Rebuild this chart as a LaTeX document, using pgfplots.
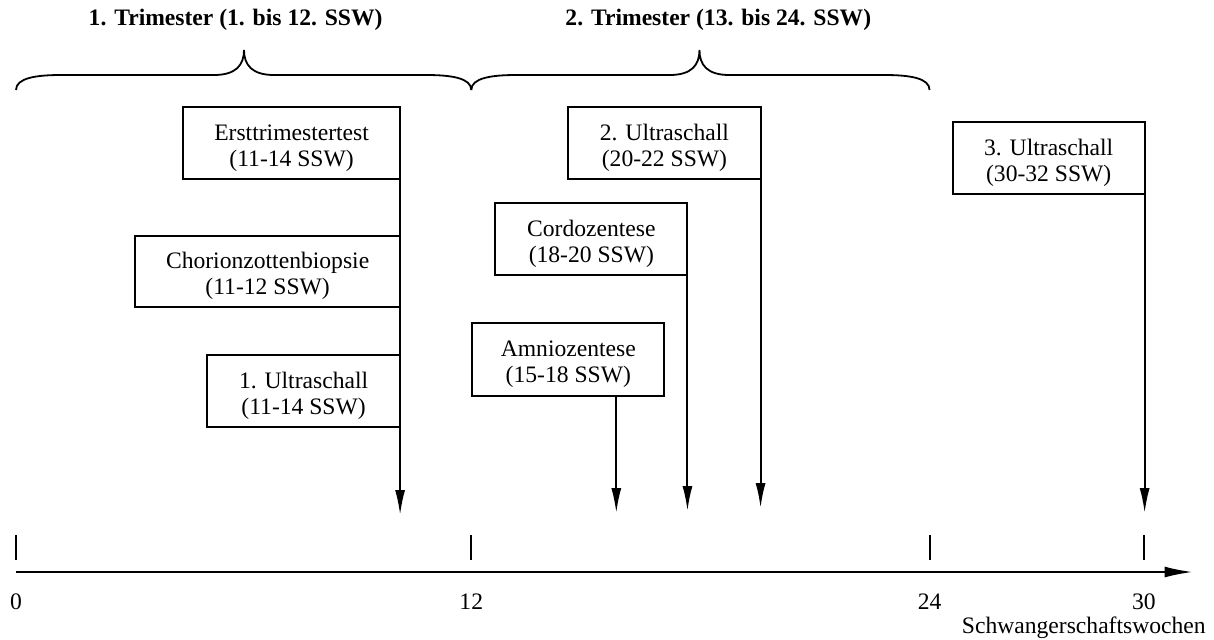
\documentclass[border=0pt]{standalone}
\usepackage{fontspec}
\setmainfont{Liberation Serif}
\usepackage{pgfplots}
\pgfplotsset{compat=1.18}
\usetikzlibrary{arrows.meta}

\begin{document}
\begin{tikzpicture}[font=\fontsize{11.8}{13}\selectfont]
\useasboundingbox (0,0) rectangle (607pt,319.5pt);
\begin{axis}[at={(0,0)}, anchor=south west, scale only axis,
  width=607pt, height=319.5pt,
  xmin=-0.4206, xmax=31.4722, ymin=0, ymax=639, y dir=reverse,
  hide axis, clip=false]

% time axis
\addplot[line width=1pt, -{Latex[length=14pt,width=5.5pt]}] coordinates {(0,572) (30.91,572)};
% tick marks
\addplot[line width=1pt] coordinates {(0,535) (0,560)};
\addplot[line width=1pt] coordinates {(11.96,535) (11.96,560)};
\addplot[line width=1pt] coordinates {(24.0,535) (24.0,560)};
\addplot[line width=1pt] coordinates {(29.63,535) (29.63,560)};
\node at (0,602) {0};
\node at (11.96,602) {12};
\node at (24.0,602) {24};
\node at (29.63,602) {30};
\node[anchor=east] at (31.44,628) {Schwangerschaftswochen};

% braces
\draw[line width=0.9pt] (0,90) .. controls (0,78) and (0.526,75) .. (1.183,75) -- (5.20,75)
  .. controls (5.78,75) and (5.99,65) .. (5.99,50)
  .. controls (5.99,65) and (6.20,75) .. (6.78,75) -- (10.78,75)
  .. controls (11.43,75) and (11.96,78) .. (11.96,90);
\draw[line width=0.9pt] (11.96,90) .. controls (11.96,78) and (12.49,75) .. (13.14,75) -- (17.17,75)
  .. controls (17.75,75) and (17.955,65) .. (17.955,50)
  .. controls (17.955,65) and (18.16,75) .. (18.74,75) -- (22.82,75)
  .. controls (23.47,75) and (24.0,78) .. (24.0,90);
\node[font=\fontsize{11.8}{13}\selectfont\bfseries] at (5.77,20) {1. Trimester (1. bis 12. SSW)};
\node[font=\fontsize{11.8}{13}\selectfont\bfseries] at (18.45,20) {2. Trimester (13. bis 24. SSW)};

% arrows
\addplot[line width=1pt, -{Latex[length=12.5pt,width=5pt]}] coordinates {(10.09,107) (10.09,515)};
\addplot[line width=1pt, -{Latex[length=12.5pt,width=5pt]}] coordinates {(15.77,396) (15.77,513)};
\addplot[line width=1pt, -{Latex[length=12.5pt,width=5pt]}] coordinates {(17.64,275) (17.64,511)};
\addplot[line width=1pt, -{Latex[length=12.5pt,width=5pt]}] coordinates {(19.56,179) (19.56,508)};
\addplot[line width=1pt, -{Latex[length=12.5pt,width=5pt]}] coordinates {(29.65,194) (29.65,513)};

% boxes
\draw[line width=1pt, fill=white] (4.39,107) rectangle (10.09,179);
\node[align=center] at (7.24,148) {Ersttrimestertest\\(11-14 SSW)};
\draw[line width=1pt, fill=white] (3.13,236) rectangle (10.09,307);
\node[align=center] at (6.61,276) {Chorionzottenbiopsie\\(11-12 SSW)};
\draw[line width=1pt, fill=white] (5.02,355) rectangle (10.09,427);
\node[align=center] at (7.555,396) {1. Ultraschall\\(11-14 SSW)};
\draw[line width=1pt, fill=white] (14.51,107) rectangle (19.56,179);
\node[align=center] at (17.035,148) {2. Ultraschall\\(20-22 SSW)};
\draw[line width=1pt, fill=white] (12.59,203) rectangle (17.64,275);
\node[align=center] at (15.115,244) {Cordozentese\\(18-20 SSW)};
\draw[line width=1pt, fill=white] (11.99,323) rectangle (17.03,396);
\node[align=center] at (14.51,364) {Amniozentese\\(15-18 SSW)};
\draw[line width=1pt, fill=white] (24.61,122) rectangle (29.65,194);
\node[align=center] at (27.13,163) {3. Ultraschall\\(30-32 SSW)};

\end{axis}
\end{tikzpicture}
\end{document}
